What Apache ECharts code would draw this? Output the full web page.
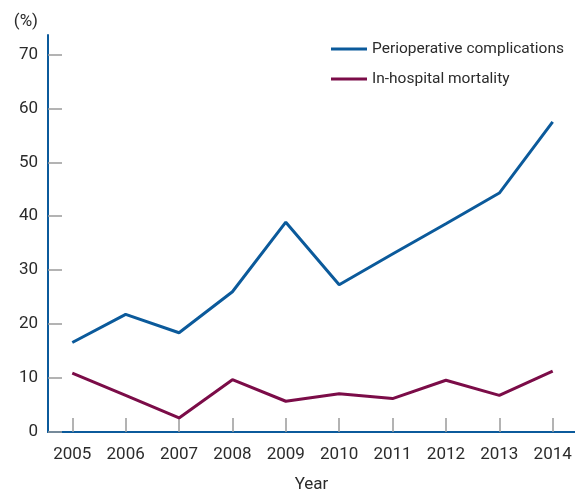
<!DOCTYPE html>
<html>
<head>
<meta charset="utf-8">
<script src="https://cdn.jsdelivr.net/npm/echarts@6/dist/echarts.min.js"></script>
<style>
  html, body { margin: 0; padding: 0; background: #fff; }
  #chart { width: 575px; height: 490px; }
</style>
</head>
<body>
<div id="chart"></div>
<script>
// data
const years = [2005, 2006, 2007, 2008, 2009, 2010, 2011, 2012, 2013, 2014]
const complications = [16.6, 21.8, 18.4, 26.0, 38.9, 27.3, 33.0, 38.6, 44.3, 57.5]
const mortality = [10.9, 6.8, 2.6, 9.7, 5.7, 7.1, 6.2, 9.6, 6.8, 11.3]
const yTicks = [0, 10, 20, 30, 40, 50, 60, 70]

const FONT = 'Roboto, "Liberation Sans", sans-serif'
const FS = 17
const BLUE = '#0b5a9b'
const RED = '#7b0c48'
const TEXT = '#2b2b2b'

const chart = echarts.init(document.getElementById('chart'))

const pairs = arr => years.map((y, i) => [y, arr[i]])

chart.setOption({
  animation: false,
  textStyle: { fontFamily: FONT },
  grid: { left: 48, right: 0, top: 35, bottom: 58, outerBoundsMode: 'none', containLabel: false },
  legend: {
    orient: 'vertical',
    left: 326,
    top: 34,
    icon: 'rect',
    itemWidth: 36,
    itemHeight: 3,
    itemGap: 10,
    itemTextGap: 11,
    textStyle: { fontFamily: FONT, fontSize: 15.5, color: TEXT, lineHeight: 20 },
    data: ['Perioperative complications', 'In-hospital mortality']
  },
  xAxis: {
    type: 'value',
    min: 2004.545,
    max: 2014.418,
    name: 'Year',
    nameLocation: 'middle',
    nameGap: 44,
    nameTextStyle: { fontFamily: FONT, fontSize: FS, color: TEXT },
    axisLine: { show: true, lineStyle: { color: BLUE, width: 2 } },
    axisTick: {
      show: true, inside: true, length: 14,
      customValues: years,
      lineStyle: { color: '#9a9a9a', width: 1.5 }
    },
    axisLabel: {
      customValues: years,
      margin: 14,
      fontFamily: FONT, fontSize: FS, color: TEXT,
      formatter: v => String(v)
    },
    splitLine: { show: false }
  },
  yAxis: {
    type: 'value',
    min: 0,
    max: 73.6,
    name: '(%)',
    nameLocation: 'end',
    nameGap: 5,
    nameTextStyle: { fontFamily: FONT, fontSize: FS, color: TEXT, align: 'right', padding: [0, 10, 0, 0] },
    axisLine: { show: true, lineStyle: { color: BLUE, width: 2 } },
    axisTick: {
      show: true, inside: true, length: 14,
      customValues: yTicks,
      lineStyle: { color: '#9a9a9a', width: 1.5 }
    },
    axisLabel: {
      customValues: yTicks,
      margin: 10,
      fontFamily: FONT, fontSize: FS, color: TEXT
    },
    splitLine: { show: false }
  },
  series: [
    {
      name: 'Perioperative complications',
      type: 'line',
      data: pairs(complications),
      symbol: 'none',
      lineStyle: { color: BLUE, width: 3 },
      itemStyle: { color: BLUE }
    },
    {
      name: 'In-hospital mortality',
      type: 'line',
      data: pairs(mortality),
      symbol: 'none',
      lineStyle: { color: RED, width: 3 },
      itemStyle: { color: RED }
    }
  ]
})
</script>
</body>
</html>
